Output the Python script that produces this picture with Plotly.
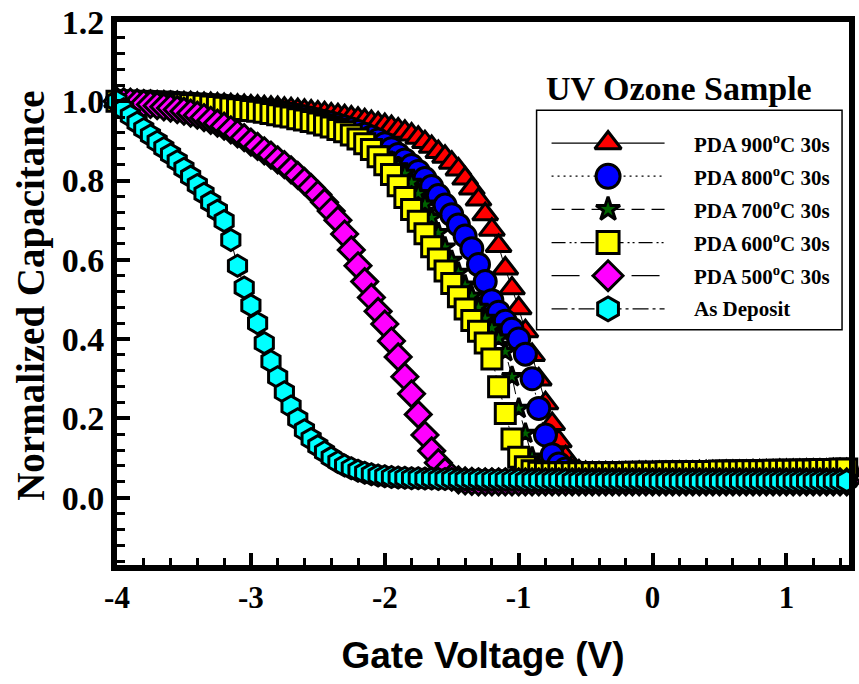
import plotly.graph_objects as go

# Gate voltage sweep (V)
V = [-4.00, -3.95, -3.90, -3.85, -3.80, -3.75, -3.70, -3.65, -3.60, -3.55,
     -3.50, -3.45, -3.40, -3.35, -3.30, -3.25, -3.20, -3.15, -3.10, -3.05,
     -3.00, -2.95, -2.90, -2.85, -2.80, -2.75, -2.70, -2.65, -2.60, -2.55,
     -2.50, -2.45, -2.40, -2.35, -2.30, -2.25, -2.20, -2.15, -2.10, -2.05,
     -2.00, -1.95, -1.90, -1.85, -1.80, -1.75, -1.70, -1.65, -1.60, -1.55,
     -1.50, -1.45, -1.40, -1.35, -1.30, -1.25, -1.20, -1.15, -1.10, -1.05,
     -1.00, -0.95, -0.90, -0.85, -0.80, -0.75, -0.70, -0.65, -0.60, -0.55,
     -0.50, -0.45, -0.40, -0.35, -0.30, -0.25, -0.20, -0.15, -0.10, -0.05,
     0.00, 0.05, 0.10, 0.15, 0.20, 0.25, 0.30, 0.35, 0.40, 0.45,
     0.50, 0.55, 0.60, 0.65, 0.70, 0.75, 0.80, 0.85, 0.90, 0.95,
     1.00, 1.05, 1.10, 1.15, 1.20, 1.25, 1.30, 1.35, 1.40, 1.45, 1.50]

C_900 = [1.000, 1.000, 0.999, 0.999, 0.998, 0.998, 0.997, 0.997, 0.996, 0.996,
         0.995, 0.995, 0.994, 0.993, 0.993, 0.992, 0.991, 0.990, 0.989, 0.988,
         0.987, 0.986, 0.985, 0.984, 0.983, 0.981, 0.980, 0.978, 0.976, 0.974,
         0.972, 0.970, 0.967, 0.965, 0.962, 0.959, 0.956, 0.952, 0.948, 0.944,
         0.940, 0.935, 0.929, 0.923, 0.916, 0.908, 0.897, 0.885, 0.872, 0.860,
         0.845, 0.828, 0.805, 0.780, 0.752, 0.715, 0.676, 0.635, 0.578, 0.528,
         0.478, 0.420, 0.360, 0.298, 0.238, 0.186, 0.142, 0.102, 0.078, 0.066,
         0.062, 0.061, 0.061, 0.061, 0.061, 0.061, 0.061, 0.061, 0.062, 0.062,
         0.062, 0.062, 0.062, 0.063, 0.063, 0.063, 0.063, 0.064, 0.064, 0.064,
         0.064, 0.065, 0.065, 0.065, 0.065, 0.066, 0.066, 0.066, 0.066, 0.067,
         0.067, 0.067, 0.067, 0.068, 0.068, 0.068, 0.068, 0.069, 0.069, 0.069, 0.069]

C_800 = [1.000, 1.000, 0.999, 0.999, 0.998, 0.998, 0.997, 0.996, 0.996, 0.995,
         0.994, 0.993, 0.992, 0.991, 0.990, 0.989, 0.988, 0.986, 0.985, 0.983,
         0.981, 0.979, 0.977, 0.975, 0.972, 0.970, 0.967, 0.964, 0.961, 0.957,
         0.953, 0.949, 0.945, 0.940, 0.935, 0.930, 0.924, 0.917, 0.910, 0.902,
         0.893, 0.880, 0.866, 0.852, 0.838, 0.823, 0.805, 0.785, 0.762, 0.738,
         0.714, 0.688, 0.660, 0.628, 0.588, 0.545, 0.497, 0.468, 0.445, 0.425,
         0.400, 0.362, 0.300, 0.225, 0.158, 0.108, 0.085, 0.072, 0.065, 0.062,
         0.061, 0.060, 0.060, 0.060, 0.060, 0.060, 0.060, 0.060, 0.061, 0.061,
         0.061, 0.061, 0.061, 0.062, 0.062, 0.062, 0.062, 0.063, 0.063, 0.063,
         0.063, 0.064, 0.064, 0.064, 0.064, 0.065, 0.065, 0.065, 0.065, 0.066,
         0.066, 0.066, 0.066, 0.067, 0.067, 0.067, 0.067, 0.068, 0.068, 0.068, 0.068]

C_700 = [1.000, 1.000, 0.999, 0.999, 0.998, 0.997, 0.997, 0.996, 0.995, 0.994,
         0.993, 0.992, 0.991, 0.990, 0.988, 0.987, 0.985, 0.983, 0.981, 0.979,
         0.977, 0.975, 0.972, 0.970, 0.967, 0.964, 0.961, 0.957, 0.953, 0.949,
         0.945, 0.940, 0.935, 0.929, 0.923, 0.916, 0.908, 0.899, 0.888, 0.876,
         0.862, 0.848, 0.834, 0.818, 0.795, 0.767, 0.740, 0.706, 0.668, 0.632,
         0.598, 0.568, 0.536, 0.508, 0.480, 0.452, 0.428, 0.402, 0.368, 0.305,
         0.225, 0.162, 0.102, 0.076, 0.066, 0.062, 0.060, 0.059, 0.059, 0.059,
         0.059, 0.059, 0.059, 0.059, 0.059, 0.059, 0.059, 0.060, 0.060, 0.060,
         0.060, 0.060, 0.060, 0.061, 0.061, 0.061, 0.061, 0.061, 0.062, 0.062,
         0.062, 0.062, 0.062, 0.063, 0.063, 0.063, 0.063, 0.064, 0.064, 0.064,
         0.064, 0.065, 0.065, 0.065, 0.065, 0.066, 0.066, 0.066, 0.067, 0.067, 0.067]

C_600 = [1.000, 1.000, 0.999, 0.999, 0.998, 0.998, 0.997, 0.996, 0.995, 0.994,
         0.993, 0.992, 0.991, 0.990, 0.988, 0.987, 0.985, 0.983, 0.981, 0.979,
         0.977, 0.975, 0.972, 0.969, 0.966, 0.963, 0.960, 0.956, 0.953, 0.949,
         0.945, 0.940, 0.935, 0.929, 0.923, 0.915, 0.905, 0.893, 0.878, 0.860,
         0.840, 0.815, 0.787, 0.757, 0.727, 0.697, 0.666, 0.633, 0.602, 0.572,
         0.540, 0.507, 0.476, 0.447, 0.420, 0.390, 0.350, 0.280, 0.212, 0.148,
         0.102, 0.078, 0.068, 0.064, 0.063, 0.063, 0.063, 0.063, 0.063, 0.063,
         0.063, 0.063, 0.063, 0.063, 0.063, 0.063, 0.063, 0.064, 0.064, 0.064,
         0.064, 0.064, 0.065, 0.065, 0.065, 0.065, 0.066, 0.066, 0.066, 0.066,
         0.067, 0.067, 0.067, 0.067, 0.068, 0.068, 0.068, 0.068, 0.069, 0.069,
         0.069, 0.069, 0.070, 0.070, 0.070, 0.071, 0.071, 0.071, 0.072, 0.072, 0.072]

C_500 = [1.000, 0.999, 0.998, 0.996, 0.994, 0.992, 0.989, 0.986, 0.983, 0.979,
         0.975, 0.970, 0.965, 0.959, 0.952, 0.945, 0.937, 0.928, 0.918, 0.908,
         0.897, 0.886, 0.875, 0.864, 0.852, 0.840, 0.827, 0.813, 0.798, 0.782,
         0.765, 0.745, 0.723, 0.700, 0.665, 0.625, 0.585, 0.545, 0.505, 0.470,
         0.438, 0.395, 0.355, 0.305, 0.262, 0.210, 0.158, 0.118, 0.088, 0.066,
         0.052, 0.045, 0.042, 0.041, 0.040, 0.040, 0.040, 0.040, 0.040, 0.040,
         0.040, 0.040, 0.040, 0.040, 0.040, 0.040, 0.040, 0.040, 0.040, 0.040,
         0.040, 0.040, 0.040, 0.040, 0.040, 0.040, 0.040, 0.040, 0.040, 0.040,
         0.040, 0.040, 0.040, 0.040, 0.040, 0.040, 0.040, 0.040, 0.040, 0.040,
         0.040, 0.040, 0.040, 0.040, 0.040, 0.040, 0.040, 0.040, 0.040, 0.040,
         0.040, 0.040, 0.040, 0.040, 0.040, 0.040, 0.040, 0.040, 0.040, 0.040, 0.040]

C_AD = [1.000, 0.980, 0.963, 0.946, 0.930, 0.914, 0.898, 0.882, 0.866, 0.849,
        0.830, 0.810, 0.789, 0.767, 0.745, 0.724, 0.698, 0.650, 0.585, 0.530,
        0.485, 0.440, 0.390, 0.344, 0.304, 0.266, 0.230, 0.198, 0.170, 0.148,
        0.130, 0.115, 0.101, 0.090, 0.081, 0.074, 0.068, 0.063, 0.059, 0.056,
        0.054, 0.052, 0.051, 0.050, 0.049, 0.049, 0.048, 0.048, 0.047, 0.047,
        0.047, 0.046, 0.046, 0.046, 0.046, 0.045, 0.045, 0.045, 0.045, 0.045,
        0.045, 0.044, 0.044, 0.044, 0.044, 0.044, 0.044, 0.044, 0.043, 0.043,
        0.043, 0.043, 0.043, 0.043, 0.043, 0.043, 0.043, 0.043, 0.043, 0.043,
        0.042, 0.042, 0.042, 0.042, 0.042, 0.042, 0.042, 0.042, 0.042, 0.042,
        0.042, 0.042, 0.042, 0.042, 0.042, 0.042, 0.042, 0.042, 0.042, 0.042,
        0.042, 0.042, 0.042, 0.042, 0.042, 0.042, 0.042, 0.042, 0.042, 0.042, 0.042]

NAMES = ["PDA 900<sup>o</sup>C 30s", "PDA 800<sup>o</sup>C 30s", "PDA 700<sup>o</sup>C 30s",
         "PDA 600<sup>o</sup>C 30s", "PDA 500<sup>o</sup>C 30s", "As Deposit"]
SERIES = [C_900, C_800, C_700, C_600, C_500, C_AD]
COLORS = ["#FF0000", "#0000FF", "#006400", "#FFFF00", "#FF00FF", "#00FFFF"]
SYMBOLS = ["triangle-up", "circle", "star", "square", "diamond", "hexagon"]
SIZES = [22, 22, 15, 20, 20, 21]
LEG_SIZES = [23, 24, 18, 22, 23, 24]
DASHES = ["solid", "2px,4px", "13px,7px", "14px,4px,2px,3px,2px,4px", "28px,12px", "16px,4px,3px,4px"]

X_TICKS = [-4, -3, -2, -1, 0, 1]
X_TICK_LABELS = ["-4", "-3", "-2", "-1", "0", "1"]
Y_TICKS = [0.0, 0.2, 0.4, 0.6, 0.8, 1.0, 1.2]
Y_TICK_LABELS = ["0.0", "0.2", "0.4", "0.6", "0.8", "1.0", "1.2"]

SERIF = "Liberation Serif, Times New Roman, serif"

fig = go.Figure()
for name, c, col, sym, sz, dash in zip(NAMES, SERIES, COLORS, SYMBOLS, SIZES, DASHES):
    fig.add_trace(go.Scatter(
        x=V, y=c, mode="lines+markers", name=name, cliponaxis=False,
        line=dict(color="black", width=1, dash=dash),
        marker=dict(symbol=sym, size=sz, color=col, opacity=1,
                    line=dict(color="black", width=3)),
        showlegend=False))

# legend drawn inside its own small axes (fractions of the legend box)
row_top, row_step = 0.851, 0.1512
x_l0, x_mid, x_l1, x_txt = 0.049, 0.234, 0.419, 0.51
for i, (name, col, sym, lsz, dash) in enumerate(zip(NAMES, COLORS, SYMBOLS, LEG_SIZES, DASHES)):
    yy = row_top - i * row_step
    fig.add_trace(go.Scatter(
        x=[x_l0, x_mid, x_l1], y=[yy, yy, yy], xaxis="x2", yaxis="y2",
        mode="lines+markers", showlegend=False, hoverinfo="skip",
        line=dict(color="black", width=1.3, dash=dash),
        marker=dict(symbol=sym, size=[0, lsz, 0], color=col, opacity=1,
                    line=dict(color="black", width=[0, 3, 0]))))
    fig.add_annotation(x=x_txt, y=yy, xref="x2", yref="y2", text="<b>" + name + "</b>",
                       showarrow=False, xanchor="left", yanchor="middle",
                       font=dict(family=SERIF, size=21, color="black"))

# legend box & title
L_X0, L_X1, L_Y0, L_Y1 = 0.5732, 0.9905, 0.4333, 0.8373
fig.add_shape(type="rect", xref="paper", yref="paper", x0=L_X0, x1=L_X1, y0=L_Y0, y1=L_Y1,
              line=dict(color="black", width=1.5))
fig.add_annotation(x=0.768, y=0.878, xref="paper", yref="paper", text="<b>UV Ozone Sample</b>",
                   showarrow=False, xanchor="center", yanchor="middle",
                   font=dict(family=SERIF, size=34, color="black"))

# y-axis title placed as rotated text left of the tick labels
fig.add_annotation(x=-0.1179, y=0.497, xref="paper", yref="paper",
                   text="<b>Normalized Capacitance</b>", textangle=-90, showarrow=False,
                   xanchor="center", yanchor="middle",
                   font=dict(family=SERIF, size=39, color="black"))

fig.update_layout(
    width=859, height=684,
    margin=dict(l=117, r=4, t=18, b=119, pad=0),
    plot_bgcolor="white", paper_bgcolor="white",
    showlegend=False,
    xaxis=dict(range=[-4, 1.467], tickmode="array", tickvals=X_TICKS, ticktext=X_TICK_LABELS,
               ticks="inside", ticklen=12, tickwidth=4,
               tickcolor="black", showline=True, linewidth=6, linecolor="black", mirror=True,
               showgrid=False, zeroline=False, ticklabeloverflow="allow",
               tickfont=dict(family=SERIF, size=31, color="black", weight="bold"),
               minor=dict(dtick=0.2, tick0=0, ticks="inside", ticklen=7, tickwidth=3,
                          tickcolor="black", showgrid=False),
               title=dict(text="<b>Gate Voltage (V)</b>", standoff=30,
                          font=dict(family="Liberation Sans, Arial, sans-serif", size=37, color="black"))),
    yaxis=dict(range=[-0.17, 1.2], tickmode="array", tickvals=Y_TICKS, ticktext=Y_TICK_LABELS,
               ticks="inside", ticklabeloverflow="allow",
               ticklen=13, tickwidth=4, tickcolor="black", showline=True, linewidth=6,
               linecolor="black", mirror=True, showgrid=False, zeroline=False,
               tickfont=dict(family=SERIF, size=34, color="black", weight="bold"),
               minor=dict(dtick=0.04, tick0=0, ticks="inside", ticklen=8, tickwidth=3,
                          tickcolor="black", showgrid=False)),
    xaxis2=dict(domain=[L_X0, L_X1], range=[0, 1], anchor="y2", visible=False, fixedrange=True),
    yaxis2=dict(domain=[L_Y0, L_Y1], range=[0, 1], anchor="x2", visible=False, fixedrange=True),
)

fig.write_html("out.html")
